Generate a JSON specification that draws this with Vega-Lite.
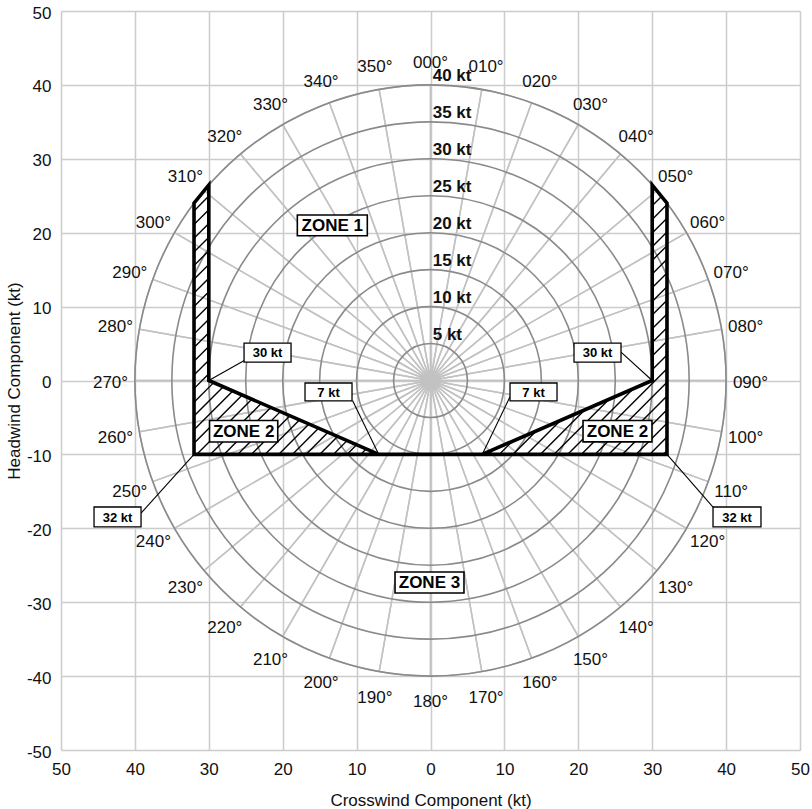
{
  "$schema": "https://vega.github.io/schema/vega-lite/v6.json",
  "width": 739,
  "height": 739,
  "autosize": {"type": "none"},
  "padding": {"left": 61, "top": 11, "right": 12, "bottom": 59},
  "background": "white",
  "config": {
    "view": {"stroke": null},
    "font": "Liberation Sans",
    "axis": {
      "grid": true, "gridColor": "#cccccc", "gridWidth": 1.5,
      "domain": false, "ticks": false,
      "labelFontSize": 17, "labelColor": "#111111", "labelFont": "Liberation Sans",
      "titleFontSize": 17, "titleFontWeight": "normal", "titleColor": "#111111", "titleFont": "Liberation Sans",
      "labelFlush": false
    }
  },
  "datasets": {
    "spokes": [
      {"a": 0, "a2": 10}, {"a": 10, "a2": 20}, {"a": 20, "a2": 30}, {"a": 30, "a2": 40}, {"a": 40, "a2": 50}, {"a": 50, "a2": 60},
      {"a": 60, "a2": 70}, {"a": 70, "a2": 80}, {"a": 80, "a2": 90}, {"a": 90, "a2": 100}, {"a": 100, "a2": 110}, {"a": 110, "a2": 120},
      {"a": 120, "a2": 130}, {"a": 130, "a2": 140}, {"a": 140, "a2": 150}, {"a": 150, "a2": 160}, {"a": 160, "a2": 170}, {"a": 170, "a2": 180},
      {"a": 180, "a2": 190}, {"a": 190, "a2": 200}, {"a": 200, "a2": 210}, {"a": 210, "a2": 220}, {"a": 220, "a2": 230}, {"a": 230, "a2": 240},
      {"a": 240, "a2": 250}, {"a": 250, "a2": 260}, {"a": 260, "a2": 270}, {"a": 270, "a2": 280}, {"a": 280, "a2": 290}, {"a": 290, "a2": 300},
      {"a": 300, "a2": 310}, {"a": 310, "a2": 320}, {"a": 320, "a2": 330}, {"a": 330, "a2": 340}, {"a": 340, "a2": 350}, {"a": 350, "a2": 360}
    ],
    "circles": [{"r": 5}, {"r": 10}, {"r": 15}, {"r": 20}, {"r": 25}, {"r": 30}, {"r": 35}, {"r": 40}],
    "deg": [
      {"a": 0, "lab": "000°"}, {"a": 10, "lab": "010°"}, {"a": 20, "lab": "020°"}, {"a": 30, "lab": "030°"}, {"a": 40, "lab": "040°"},
      {"a": 50, "lab": "050°"}, {"a": 60, "lab": "060°"}, {"a": 70, "lab": "070°"}, {"a": 80, "lab": "080°"}, {"a": 90, "lab": "090°"},
      {"a": 100, "lab": "100°"}, {"a": 110, "lab": "110°"}, {"a": 120, "lab": "120°"}, {"a": 130, "lab": "130°"}, {"a": 140, "lab": "140°"},
      {"a": 150, "lab": "150°"}, {"a": 160, "lab": "160°"}, {"a": 170, "lab": "170°"}, {"a": 180, "lab": "180°"}, {"a": 190, "lab": "190°"},
      {"a": 200, "lab": "200°"}, {"a": 210, "lab": "210°"}, {"a": 220, "lab": "220°"}, {"a": 230, "lab": "230°"}, {"a": 240, "lab": "240°"},
      {"a": 250, "lab": "250°"}, {"a": 260, "lab": "260°"}, {"a": 270, "lab": "270°"}, {"a": 280, "lab": "280°"}, {"a": 290, "lab": "290°"},
      {"a": 300, "lab": "300°"}, {"a": 310, "lab": "310°"}, {"a": 320, "lab": "320°"}, {"a": 330, "lab": "330°"}, {"a": 340, "lab": "340°"},
      {"a": 350, "lab": "350°"}
    ],
    "speed": [
      {"r": 5, "lab": "5 kt"}, {"r": 10, "lab": "10 kt"}, {"r": 15, "lab": "15 kt"}, {"r": 20, "lab": "20 kt"},
      {"r": 25, "lab": "25 kt"}, {"r": 30, "lab": "30 kt"}, {"r": 35, "lab": "35 kt"}, {"r": 40, "lab": "40 kt"}
    ],
    "zonefill": [
      {"g": "L", "o": 1, "x": -32, "y": 24, "y2": -10},
      {"g": "L", "o": 2, "x": -30, "y": 26.458, "y2": -10},
      {"g": "L", "o": 3, "x": -30, "y": 0, "y2": -10},
      {"g": "L", "o": 4, "x": -7, "y": -10, "y2": -10},
      {"g": "R", "o": 1, "x": 7, "y": -10, "y2": -10},
      {"g": "R", "o": 2, "x": 30, "y": 0, "y2": -10},
      {"g": "R", "o": 3, "x": 30, "y": 26.458, "y2": -10},
      {"g": "R", "o": 4, "x": 32, "y": 24, "y2": -10}
    ],
    "outline": [
      {"o": 1, "x": -7, "y": -10}, {"o": 2, "x": -30, "y": 0}, {"o": 3, "x": -30, "y": 26.458}, {"o": 4, "x": -32, "y": 24},
      {"o": 5, "x": -32, "y": -10}, {"o": 6, "x": 32, "y": -10}, {"o": 7, "x": 32, "y": 24}, {"o": 8, "x": 30, "y": 26.458},
      {"o": 9, "x": 30, "y": 0}, {"o": 10, "x": 7, "y": -10}
    ],
    "hatch": [
      {"x": -7.6, "y": -10, "x2": -7.418, "y2": -9.818},
      {"x": -9.45, "y": -10, "x2": -8.708, "y2": -9.258},
      {"x": -11.3, "y": -10, "x2": -9.997, "y2": -8.697},
      {"x": -13.15, "y": -10, "x2": -11.286, "y2": -8.136},
      {"x": -15, "y": -10, "x2": -12.576, "y2": -7.576},
      {"x": -16.85, "y": -10, "x2": -13.865, "y2": -7.015},
      {"x": -18.7, "y": -10, "x2": -15.155, "y2": -6.455},
      {"x": -20.55, "y": -10, "x2": -16.444, "y2": -5.894},
      {"x": -22.4, "y": -10, "x2": -17.733, "y2": -5.333},
      {"x": -24.25, "y": -10, "x2": -19.023, "y2": -4.773},
      {"x": -26.1, "y": -10, "x2": -20.312, "y2": -4.212},
      {"x": -27.95, "y": -10, "x2": -21.602, "y2": -3.652},
      {"x": -29.8, "y": -10, "x2": -22.891, "y2": -3.091},
      {"x": -31.65, "y": -10, "x2": -24.18, "y2": -2.53},
      {"x": -32, "y": -8.5, "x2": -25.47, "y2": -1.97},
      {"x": -32, "y": -6.65, "x2": -26.759, "y2": -1.409},
      {"x": -32, "y": -4.8, "x2": -28.048, "y2": -0.848},
      {"x": -32, "y": -2.95, "x2": -29.338, "y2": -0.288},
      {"x": -32, "y": -1.1, "x2": -30, "y2": 0.9},
      {"x": -32, "y": 0.75, "x2": -30, "y2": 2.75},
      {"x": -32, "y": 2.6, "x2": -30, "y2": 4.6},
      {"x": -32, "y": 4.45, "x2": -30, "y2": 6.45},
      {"x": -32, "y": 6.3, "x2": -30, "y2": 8.3},
      {"x": -32, "y": 8.15, "x2": -30, "y2": 10.15},
      {"x": -32, "y": 10, "x2": -30, "y2": 12},
      {"x": -32, "y": 11.85, "x2": -30, "y2": 13.85},
      {"x": -32, "y": 13.7, "x2": -30, "y2": 15.7},
      {"x": -32, "y": 15.55, "x2": -30, "y2": 17.55},
      {"x": -32, "y": 17.4, "x2": -30, "y2": 19.4},
      {"x": -32, "y": 19.25, "x2": -30, "y2": 21.25},
      {"x": -32, "y": 21.1, "x2": -30, "y2": 23.1},
      {"x": -32, "y": 22.95, "x2": -30, "y2": 24.95},
      {"x": 31.5, "y": -10, "x2": 32, "y2": -9.5},
      {"x": 29.65, "y": -10, "x2": 32, "y2": -7.65},
      {"x": 27.8, "y": -10, "x2": 32, "y2": -5.8},
      {"x": 25.95, "y": -10, "x2": 32, "y2": -3.95},
      {"x": 24.1, "y": -10, "x2": 32, "y2": -2.1},
      {"x": 22.25, "y": -10, "x2": 32, "y2": -0.25},
      {"x": 20.4, "y": -10, "x2": 32, "y2": 1.6},
      {"x": 18.55, "y": -10, "x2": 27.435, "y2": -1.115},
      {"x": 30, "y": 1.45, "x2": 32, "y2": 3.45},
      {"x": 16.7, "y": -10, "x2": 24.162, "y2": -2.538},
      {"x": 30, "y": 3.3, "x2": 32, "y2": 5.3},
      {"x": 14.85, "y": -10, "x2": 20.888, "y2": -3.962},
      {"x": 30, "y": 5.15, "x2": 32, "y2": 7.15},
      {"x": 13, "y": -10, "x2": 17.615, "y2": -5.385},
      {"x": 30, "y": 7, "x2": 32, "y2": 9},
      {"x": 11.15, "y": -10, "x2": 14.342, "y2": -6.808},
      {"x": 30, "y": 8.85, "x2": 32, "y2": 10.85},
      {"x": 9.3, "y": -10, "x2": 11.069, "y2": -8.231},
      {"x": 30, "y": 10.7, "x2": 32, "y2": 12.7},
      {"x": 7.45, "y": -10, "x2": 7.796, "y2": -9.654},
      {"x": 30, "y": 12.55, "x2": 32, "y2": 14.55},
      {"x": 30, "y": 14.4, "x2": 32, "y2": 16.4},
      {"x": 30, "y": 16.25, "x2": 32, "y2": 18.25},
      {"x": 30, "y": 18.1, "x2": 32, "y2": 20.1},
      {"x": 30, "y": 19.95, "x2": 32, "y2": 21.95},
      {"x": 30, "y": 21.8, "x2": 32, "y2": 23.8},
      {"x": 30, "y": 23.65, "x2": 31.26, "y2": 24.91},
      {"x": 30, "y": 25.5, "x2": 30.43, "y2": 25.93}
    ],
    "leaders": [
      {"x": -30, "y": 0, "x2": -25.2, "y2": 2.7},
      {"x": 30, "y": 0, "x2": 25.78, "y2": 3.85},
      {"x": -7, "y": -10, "x2": -10.55, "y2": -2.7},
      {"x": 7, "y": -10, "x2": 10.76, "y2": -2.2},
      {"x": -32, "y": -10, "x2": -39.17, "y2": -17.95},
      {"x": 32, "y": -10, "x2": 38.23, "y2": -17.12}
    ],
    "zones": [
      {"x": -18.02, "x2": -8.55, "y": 19.59, "y2": 22.4, "cx": -13.29, "cy": 21.0, "lab": "ZONE 1"},
      {"x": -29.9, "x2": -20.67, "y": -8.33, "y2": -5.42, "cx": -25.28, "cy": -6.88, "lab": "ZONE 2"},
      {"x": 20.64, "x2": 29.97, "y": -8.3, "y2": -5.42, "cx": 25.3, "cy": -6.86, "lab": "ZONE 2"},
      {"x": -4.8, "x2": 4.53, "y": -28.76, "y2": -25.91, "cx": -0.14, "cy": -27.33, "lab": "ZONE 3"}
    ],
    "ktboxes": [
      {"x": -25.23, "x2": -18.87, "y": 2.5, "y2": 5.07, "cx": -22.05, "cy": 3.79, "lab": "30 kt"},
      {"x": 19.42, "x2": 25.78, "y": 2.5, "y2": 5.07, "cx": 22.6, "cy": 3.79, "lab": "30 kt"},
      {"x": -16.98, "x2": -10.62, "y": -2.77, "y2": -0.34, "cx": -13.8, "cy": -1.56, "lab": "7 kt"},
      {"x": 10.76, "x2": 17.12, "y": -2.77, "y2": -0.34, "cx": 13.94, "cy": -1.56, "lab": "7 kt"},
      {"x": -45.53, "x2": -39.17, "y": -19.82, "y2": -17.12, "cx": -42.35, "cy": -18.47, "lab": "32 kt"},
      {"x": 38.23, "x2": 44.72, "y": -19.82, "y2": -17.12, "cx": 41.47, "cy": -18.47, "lab": "32 kt"}
    ]
  },
  "layer": [
    {
      "data": {"name": "spokes"},
      "mark": {"type": "arc", "filled": false, "fill": null, "stroke": "#c2c2c2", "strokeWidth": 1.5, "strokeJoin": "bevel"},
      "encoding": {
        "theta": {"field": "a", "type": "quantitative", "stack": false, "scale": {"type": "linear", "domain": [0, 360], "range": [0, 6.283185307], "zero": false, "nice": false}},
        "theta2": {"field": "a2"},
        "radius": {"datum": 40, "type": "quantitative", "stack": false, "scale": {"type": "linear", "domain": [0, 50], "range": [0, 369.5], "zero": true, "nice": false}}
      }
    },
    {
      "data": {"name": "circles"},
      "mark": {"type": "arc", "filled": false, "fill": null, "stroke": "#8a8a8a", "strokeWidth": 1.6, "theta": 0, "theta2": 6.2832},
      "encoding": {
        "radius": {"field": "r", "type": "quantitative", "stack": false}
      }
    },
    {
      "data": {"name": "deg"},
      "mark": {"type": "text", "fontSize": 17, "align": "center", "baseline": "middle", "dy": 2, "color": "#111111"},
      "encoding": {
        "theta": {"field": "a", "type": "quantitative", "stack": false},
        "radius": {"datum": 43.3, "type": "quantitative", "stack": false},
        "text": {"field": "lab"}
      }
    },
    {
      "data": {"name": "speed"},
      "mark": {"type": "text", "fontSize": 17, "fontWeight": "bold", "align": "left", "baseline": "alphabetic", "dy": -4, "color": "#111111"},
      "encoding": {
        "x": {"datum": 0.3, "type": "quantitative"},
        "y": {"field": "r", "type": "quantitative"},
        "text": {"field": "lab"}
      }
    },
    {
      "data": {"name": "zonefill"},
      "mark": {"type": "area", "fill": "white", "opacity": 1},
      "encoding": {
        "x": {"field": "x", "type": "quantitative",
          "scale": {"domain": [-50, 50], "nice": false, "zero": false},
          "axis": {"values": [-50, -40, -30, -20, -10, 0, 10, 20, 30, 40, 50], "labelExpr": "'' + abs(datum.value)", "labelPadding": 11,
            "title": "Crosswind Component (kt)", "titleX": 369.5, "titleY": 55, "titleBaseline": "alphabetic", "titleAlign": "center"}},
        "y": {"field": "y", "type": "quantitative",
          "scale": {"domain": [-50, 50], "nice": false, "zero": false},
          "axis": {"values": [-50, -40, -30, -20, -10, 0, 10, 20, 30, 40, 50], "labelExpr": "'' + datum.value", "labelPadding": 10, "labelBaseline": "middle", "labelOffset": 2,
            "title": "Headwind Component (kt)", "titleX": -42, "titleY": 369.5, "titleAngle": -90, "titleBaseline": "alphabetic", "titleAlign": "center"}},
        "y2": {"field": "y2"},
        "detail": {"field": "g"},
        "order": {"field": "o", "type": "quantitative"}
      }
    },
    {
      "data": {"name": "hatch"},
      "mark": {"type": "rule", "color": "black", "strokeWidth": 1.4},
      "encoding": {
        "x": {"field": "x", "type": "quantitative"},
        "y": {"field": "y", "type": "quantitative"},
        "x2": {"field": "x2"},
        "y2": {"field": "y2"}
      }
    },
    {
      "data": {"name": "outline"},
      "mark": {"type": "line", "color": "black", "strokeWidth": 3.6, "strokeJoin": "miter", "strokeCap": "butt"},
      "encoding": {
        "x": {"field": "x", "type": "quantitative"},
        "y": {"field": "y", "type": "quantitative"},
        "order": {"field": "o", "type": "quantitative"}
      }
    },
    {
      "data": {"name": "leaders"},
      "mark": {"type": "rule", "color": "black", "strokeWidth": 1.1},
      "encoding": {
        "x": {"field": "x", "type": "quantitative"},
        "y": {"field": "y", "type": "quantitative"},
        "x2": {"field": "x2"},
        "y2": {"field": "y2"}
      }
    },
    {
      "data": {"name": "zones"},
      "mark": {"type": "rect", "fill": "white", "stroke": "black", "strokeWidth": 1.6},
      "encoding": {
        "x": {"field": "x", "type": "quantitative"},
        "x2": {"field": "x2"},
        "y": {"field": "y", "type": "quantitative"},
        "y2": {"field": "y2"}
      }
    },
    {
      "data": {"name": "zones"},
      "mark": {"type": "text", "fontSize": 17, "fontWeight": "bold", "align": "center", "baseline": "middle", "dy": 1, "color": "black"},
      "encoding": {
        "x": {"field": "cx", "type": "quantitative"},
        "y": {"field": "cy", "type": "quantitative"},
        "text": {"field": "lab"}
      }
    },
    {
      "data": {"name": "ktboxes"},
      "mark": {"type": "rect", "fill": "white", "stroke": "black", "strokeWidth": 1.3},
      "encoding": {
        "x": {"field": "x", "type": "quantitative"},
        "x2": {"field": "x2"},
        "y": {"field": "y", "type": "quantitative"},
        "y2": {"field": "y2"}
      }
    },
    {
      "data": {"name": "ktboxes"},
      "mark": {"type": "text", "fontSize": 13, "fontWeight": "bold", "align": "center", "baseline": "middle", "dy": 1, "color": "black"},
      "encoding": {
        "x": {"field": "cx", "type": "quantitative"},
        "y": {"field": "cy", "type": "quantitative"},
        "text": {"field": "lab"}
      }
    }
  ]
}
